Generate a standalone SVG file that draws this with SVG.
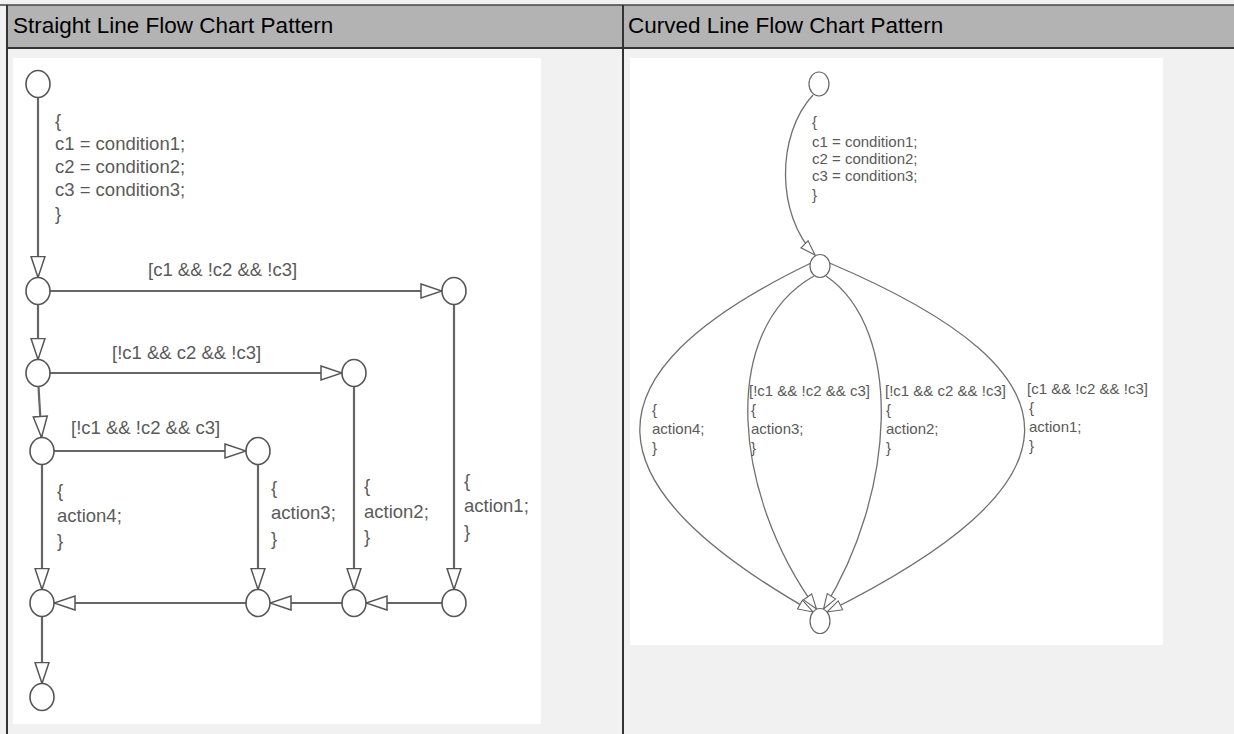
<svg xmlns="http://www.w3.org/2000/svg" width="1234" height="734" viewBox="0 0 1234 734">
<defs>
<marker id="arrL" markerUnits="userSpaceOnUse" markerWidth="24" markerHeight="18" viewBox="0 0 24 18" refX="22" refY="9" orient="auto">
<path d="M1,2 L22,9 L1,16 Z" fill="#fff" stroke="#555" stroke-width="1.5" stroke-linejoin="miter"/>
</marker>
<marker id="arrR" markerUnits="userSpaceOnUse" markerWidth="18" markerHeight="14" viewBox="0 0 18 14" refX="16" refY="7" orient="auto">
<path d="M1,2 L16,7 L1,12 Z" fill="#fff" stroke="#666" stroke-width="1.1"/>
</marker>
</defs>
<style>
.hdr{font-family:"Liberation Sans",Arial,sans-serif;font-size:22.5px;fill:#000}
.lbl{font-family:"Liberation Sans",Arial,sans-serif;font-size:18.5px;fill:#5a5a5a}
.lblR{font-family:"Liberation Sans",Arial,sans-serif;font-size:15px;fill:#5a5a5a}
.node{fill:#fff;stroke:#555;stroke-width:1.6}
.nodeR{fill:#fff;stroke:#666;stroke-width:1.2}
.edge{fill:none;stroke:#666;stroke-width:2.2;marker-end:url(#arrL)}
.edgeR{fill:none;stroke:#707070;stroke-width:1.3;marker-end:url(#arrR)}
</style>
<g id="table">
<rect x="0" y="0" width="1234" height="734" fill="#f1f1f1"/>
<rect x="7" y="5" width="1227" height="43" fill="#b3b3b3"/>
<line x1="0" y1="5" x2="1234" y2="5" stroke="#444" stroke-width="1.5"/>
<line x1="7" y1="48" x2="1234" y2="48" stroke="#333" stroke-width="2"/>
<line x1="7" y1="5" x2="7" y2="734" stroke="#333" stroke-width="2"/>
<line x1="623" y1="5" x2="623" y2="734" stroke="#333" stroke-width="2"/>
<rect x="13" y="58" width="528" height="666" fill="#fff"/>
<rect x="630" y="58" width="533" height="587" fill="#fff"/>
<text class="hdr" x="13" y="33">Straight Line Flow Chart Pattern</text>
<text class="hdr" x="628" y="33">Curved Line Flow Chart Pattern</text>
</g>
<g id="connectors">
<line class="edge" x1="38" y1="97.5" x2="38" y2="277.5"/>
<line class="edge" x1="50" y1="291" x2="442" y2="291"/>
<line class="edge" x1="38" y1="304.5" x2="38" y2="359.5"/>
<line class="edge" x1="50" y1="373" x2="342" y2="373"/>
<line class="edge" x1="38.5" y1="386.5" x2="41.5" y2="437.5"/>
<line class="edge" x1="54" y1="451" x2="246" y2="451"/>
<line class="edge" x1="42" y1="464.5" x2="42" y2="589.5"/>
<line class="edge" x1="258" y1="464.5" x2="258" y2="589.5"/>
<line class="edge" x1="354" y1="386.5" x2="354" y2="589.5"/>
<line class="edge" x1="454" y1="304.5" x2="454" y2="589.5"/>
<line class="edge" x1="442" y1="603" x2="366" y2="603"/>
<line class="edge" x1="342" y1="603" x2="270" y2="603"/>
<line class="edge" x1="246" y1="603" x2="54" y2="603"/>
<line class="edge" x1="42" y1="616.5" x2="42" y2="683.5"/>
<path class="edgeR" d="M813,95 C776,135 776,215 815,255"/>
<path class="edgeR" d="M811,263 C575,377 590,485 813,612"/>
<path class="edgeR" d="M814,276 C718,330 733,495 816.5,609"/>
<path class="edgeR" d="M826,276 C905,330 895,495 823.5,609"/>
<path class="edgeR" d="M829.5,263 C1098,377 1082,485 827,612"/>
</g>
<g id="labels">
<text class="lbl" x="55" y="127">{</text>
<text class="lbl" x="55" y="150">c1 = condition1;</text>
<text class="lbl" x="55" y="173">c2 = condition2;</text>
<text class="lbl" x="55" y="196">c3 = condition3;</text>
<text class="lbl" x="55" y="220">}</text>
<text class="lbl" x="148" y="276">[c1 &amp;&amp; !c2 &amp;&amp; !c3]</text>
<text class="lbl" x="112" y="359">[!c1 &amp;&amp; c2 &amp;&amp; !c3]</text>
<text class="lbl" x="71" y="434">[!c1 &amp;&amp; !c2 &amp;&amp; c3]</text>
<text class="lbl" x="57" y="497">{</text>
<text class="lbl" x="57" y="522">action4;</text>
<text class="lbl" x="57" y="547">}</text>
<text class="lbl" x="271" y="494">{</text>
<text class="lbl" x="271" y="519">action3;</text>
<text class="lbl" x="271" y="545">}</text>
<text class="lbl" x="364" y="492">{</text>
<text class="lbl" x="364" y="518">action2;</text>
<text class="lbl" x="364" y="543">}</text>
<text class="lbl" x="464" y="487">{</text>
<text class="lbl" x="464" y="512">action1;</text>
<text class="lbl" x="464" y="538">}</text>
<text class="lblR" x="812" y="127">{</text>
<text class="lblR" x="812" y="147">c1 = condition1;</text>
<text class="lblR" x="812" y="164">c2 = condition2;</text>
<text class="lblR" x="812" y="181">c3 = condition3;</text>
<text class="lblR" x="812" y="200">}</text>
<text class="lblR" x="652" y="415">{</text>
<text class="lblR" x="652" y="434">action4;</text>
<text class="lblR" x="652" y="453">}</text>
<text class="lblR" x="749" y="396">[!c1 &amp;&amp; !c2 &amp;&amp; c3]</text>
<text class="lblR" x="751" y="415">{</text>
<text class="lblR" x="751" y="434">action3;</text>
<text class="lblR" x="751" y="453">}</text>
<text class="lblR" x="885" y="396">[!c1 &amp;&amp; c2 &amp;&amp; !c3]</text>
<text class="lblR" x="886" y="415">{</text>
<text class="lblR" x="886" y="434">action2;</text>
<text class="lblR" x="886" y="453">}</text>
<text class="lblR" x="1027" y="394">[c1 &amp;&amp; !c2 &amp;&amp; !c3]</text>
<text class="lblR" x="1029" y="413">{</text>
<text class="lblR" x="1029" y="432">action1;</text>
<text class="lblR" x="1029" y="451">}</text>
</g>
<g id="n-start"><ellipse class="node" cx="38" cy="84" rx="12" ry="13.5"/></g>
<g id="n-a1"><ellipse class="node" cx="38" cy="291" rx="12" ry="13.5"/></g>
<g id="n-r1"><ellipse class="node" cx="454" cy="291" rx="12" ry="13.5"/></g>
<g id="n-a2"><ellipse class="node" cx="38" cy="373" rx="12" ry="13.5"/></g>
<g id="n-r2"><ellipse class="node" cx="354" cy="373" rx="12" ry="13.5"/></g>
<g id="n-a3"><ellipse class="node" cx="42" cy="451" rx="12" ry="13.5"/></g>
<g id="n-r3"><ellipse class="node" cx="258" cy="451" rx="12" ry="13.5"/></g>
<g id="n-b1"><ellipse class="node" cx="42" cy="603" rx="12" ry="13.5"/></g>
<g id="n-b2"><ellipse class="node" cx="258" cy="603" rx="12" ry="13.5"/></g>
<g id="n-b3"><ellipse class="node" cx="354" cy="603" rx="12" ry="13.5"/></g>
<g id="n-b4"><ellipse class="node" cx="454" cy="603" rx="12" ry="13.5"/></g>
<g id="n-end"><ellipse class="node" cx="42" cy="697" rx="12" ry="13.5"/></g>
<g id="m-start"><ellipse class="nodeR" cx="819" cy="84" rx="10" ry="12"/></g>
<g id="m-mid"><ellipse class="nodeR" cx="820" cy="266" rx="10" ry="11.5"/></g>
<g id="m-end"><ellipse class="nodeR" cx="820" cy="621" rx="10" ry="12.5"/></g>
</svg>
